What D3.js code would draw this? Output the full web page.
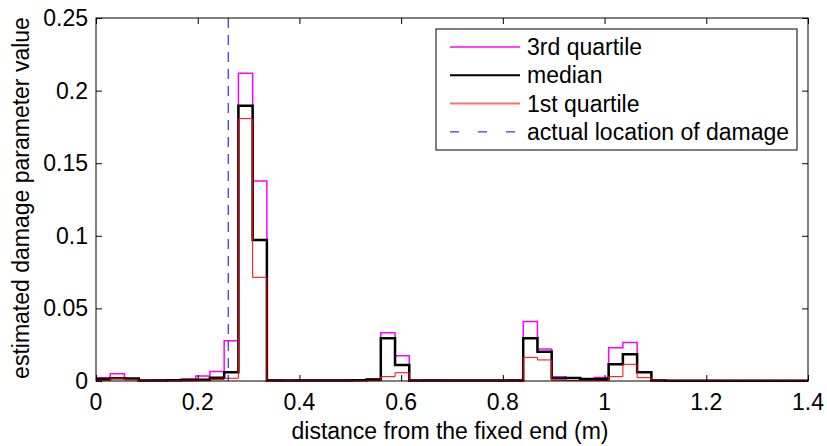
<!DOCTYPE html>
<html><head><meta charset="utf-8">
<script src="https://cdn.jsdelivr.net/npm/d3@7"></script>
<style>body{margin:0;background:#fff}svg{display:block}text{font-family:"Liberation Sans",Arial,sans-serif;fill:#000}</style>
</head><body>
<svg id="c" width="827" height="446"></svg>
<script>
const binWidth = 0.028;
const q3 = [0.0023,0.005,0.0015,0.0006,0.0008,0.0008,0.0014,0.0035,0.0066,0.0278,
  0.2119,0.1377,0.0008,0.0006,0.0008,0.0008,0.0008,0.0008,0.0008,0.0012,
  0.0333,0.0174,0.0006,0.0009,0.0007,0.0005,0.0005,0.0005,0.0005,0.0009,
  0.0410,0.0220,0.0030,0.0022,0.0016,0.0024,0.0229,0.0266,0.0060,0.0006,
  0.0004,0.0004,0.0004,0.0004,0.0004,0.0004,0.0004,0.0004,0.0004,0.0004];
const median = [0.0014,0.0019,0.0017,0.0003,0.0003,0.0005,0.0007,0.0008,0.0023,0.0060,
  0.1896,0.0971,0.0003,0.0003,0.0003,0.0003,0.0003,0.0003,0.0005,0.0011,
  0.0294,0.0110,0.0003,0.0003,0.0003,0.0003,0.0003,0.0003,0.0003,0.0003,
  0.0294,0.0202,0.0019,0.0020,0.0014,0.0014,0.0115,0.0184,0.0060,0.0004,
  0.0002,0.0002,0.0002,0.0002,0.0002,0.0002,0.0002,0.0002,0.0002,0.0002];
const q1 = [0.0005,0.0019,0.0008,0.0002,0.0002,0.0002,0.0002,0.0002,0.0010,0.0019,
  0.1807,0.0714,0.0002,0.0002,0.0002,0.0002,0.0002,0.0002,0.0002,0.0002,
  0.0030,0.0057,0.0002,0.0002,0.0002,0.0002,0.0002,0.0002,0.0002,0.0002,
  0.0163,0.0145,0.0005,0.0003,0.0003,0.0003,0.0030,0.0115,0.0023,0.0001,
  0.0001,0.0001,0.0001,0.0001,0.0001,0.0001,0.0001,0.0001,0.0001,0.0001];
const damageLocation = 0.26;
const xTicks = [0,0.2,0.4,0.6,0.8,1,1.2,1.4];
const yTicks = [0,0.05,0.1,0.15,0.2,0.25];
const legendLabels = ["3rd quartile","median","1st quartile","actual location of damage"];

const svg = d3.select("#c");
const L=96,R=808,T=18,B=381;
const x = d3.scaleLinear().domain([0,1.4]).range([L,R]);
const y = d3.scaleLinear().domain([0,0.25]).range([B,T]);
const fs = 23;

function stairs(vals){
  const pts=[];
  vals.forEach((v,i)=>{pts.push([i*binWidth,v]);pts.push([(i+1)*binWidth,v]);});
  return pts;
}
const line = d3.line().x(d=>x(d[0])).y(d=>y(d[1]));

const series = [
  {vals:q3,color:"#ff00ff",w:1.5},
  {vals:median,color:"#000000",w:2.5},
  {vals:q1,color:"#ff0000",w:1}
];
series.forEach(s=>{
  svg.append("path").attr("d",line(stairs(s.vals))).attr("fill","none")
    .attr("stroke",s.color).attr("stroke-width",s.w);
});
svg.append("line").attr("x1",x(damageLocation)).attr("x2",x(damageLocation))
  .attr("y1",T).attr("y2",B).attr("stroke","#0000ff").attr("stroke-width",1)
  .attr("stroke-dasharray","10,7");

// axes (ticks inward on all four sides)
const xb = svg.append("g").attr("transform",`translate(0,${B})`)
  .call(d3.axisBottom(x).tickValues(xTicks).tickSize(-6).tickFormat(""));
const xt = svg.append("g").attr("transform",`translate(0,${T})`)
  .call(d3.axisTop(x).tickValues(xTicks).tickSize(-6).tickFormat(""));
const yl = svg.append("g").attr("transform",`translate(${L},0)`)
  .call(d3.axisLeft(y).tickValues(yTicks).tickSize(-6).tickFormat(""));
const yr = svg.append("g").attr("transform",`translate(${R},0)`)
  .call(d3.axisRight(y).tickValues(yTicks).tickSize(-6).tickFormat(""));
[xb,xt,yl,yr].forEach(g=>{
  g.select(".domain").remove();
  g.selectAll("line").attr("stroke","#000");
});
svg.append("rect").attr("x",L).attr("y",T).attr("width",R-L).attr("height",B-T)
  .attr("fill","none").attr("stroke","#000").attr("stroke-width",1);

// tick labels
const fmt = d3.format("");
svg.append("g").selectAll("text").data(xTicks).join("text")
  .attr("x",d=>x(d)).attr("y",410).attr("text-anchor","middle").attr("font-size",fs).text(fmt);
svg.append("g").selectAll("text").data(yTicks).join("text")
  .attr("x",88).attr("y",d=>y(d)+8).attr("text-anchor","end").attr("font-size",fs).text(fmt);

svg.append("text").attr("x",450).attr("y",439).attr("text-anchor","middle")
  .attr("font-size",fs).text("distance from the fixed end (m)");
svg.append("text").attr("transform",`translate(29,198) rotate(-90)`).attr("text-anchor","middle")
  .attr("font-size",fs).text("estimated damage parameter value");

// legend
const lg = svg.append("g");
lg.append("rect").attr("x",436).attr("y",29).attr("width",361).attr("height",121)
  .attr("fill","#fff").attr("stroke","#000").attr("stroke-width",1);
const legItems = [
  {color:"#ff00ff",w:1.5,dash:null},
  {color:"#000000",w:2,dash:null},
  {color:"#ff7070",w:2,dash:null},
  {color:"#0000ff",w:1,dash:"9,19"}
];
legItems.forEach((it,i)=>{
  const cy = 47 + i*28.3;
  lg.append("line").attr("x1",450).attr("x2",520).attr("y1",cy).attr("y2",cy)
    .attr("stroke",it.color).attr("stroke-width",it.w).attr("stroke-dasharray",it.dash);
  lg.append("text").attr("x",527).attr("y",cy+8).attr("font-size",fs).text(legendLabels[i]);
});
</script>
</body></html>
